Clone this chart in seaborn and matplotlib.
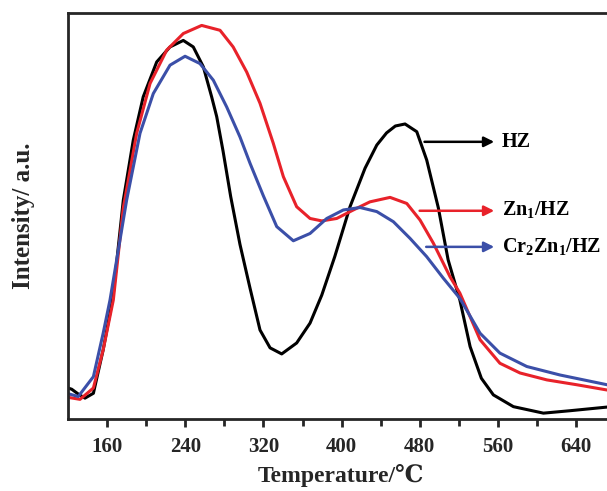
import numpy as np
import pandas as pd
import matplotlib
matplotlib.use("Agg")
import matplotlib.pyplot as plt
import seaborn as sns

# values (temperature in C, intensity normalised 0..1)
hz_t = [120, 123.8, 130, 137.4, 146, 156, 166, 176.6, 186.8, 197, 210.8, 224.4, 238, 248.2,
        258.5, 267, 272.2, 278.7, 286.5, 296, 306.3, 316.5, 326.8, 338.7, 354, 367.7, 379.7,
        393, 408.6, 424, 436, 446, 455, 464.9, 476.9, 487.1, 499, 509, 521, 531.5, 543,
        555.3, 575.8, 606.5, 633.8, 671.7]
hz_i = [0.076, 0.073, 0.062, 0.051, 0.063, 0.17, 0.3, 0.539, 0.687, 0.794, 0.88, 0.917, 0.933, 0.917,
        0.868, 0.794, 0.745, 0.66, 0.548, 0.43, 0.322, 0.219, 0.175, 0.16, 0.187, 0.236, 0.305,
        0.4, 0.523, 0.618, 0.675, 0.705, 0.722, 0.727, 0.708, 0.638, 0.52, 0.392, 0.293, 0.178, 0.1,
        0.059, 0.03, 0.014, 0.02, 0.029]

zn_t = [120, 132.3, 146, 156, 166.4, 176.6, 190.3, 204, 221, 238, 256.8, 275.6, 289, 302.9,
        316.5, 330, 340.4, 354, 367.7, 379.7, 395, 412, 429, 449.6, 466.7, 480.3, 493.9, 511,
        521, 541.7, 562, 582.6, 610, 640.7, 671.7]
zn_i = [0.053, 0.048, 0.076, 0.17, 0.293, 0.52, 0.704, 0.827, 0.909, 0.95, 0.97, 0.958, 0.917, 0.855,
        0.778, 0.68, 0.597, 0.523, 0.494, 0.488, 0.494, 0.515, 0.535, 0.546, 0.531, 0.49, 0.433, 0.35,
        0.31, 0.195, 0.137, 0.113, 0.096, 0.084, 0.071]

cr_t = [120, 130.5, 146, 156, 163, 180, 193.7, 207.3, 224.4, 239.8, 255, 268.7, 282.4, 296,
        306.3, 319.9, 333.6, 350.6, 367.7, 384.8, 401.8, 418.9, 436, 453, 470, 487, 504, 521,
        541.7, 562, 589.5, 623.6, 671.7]
cr_i = [0.062, 0.055, 0.104, 0.211, 0.293, 0.539, 0.704, 0.802, 0.872, 0.894, 0.876, 0.835, 0.769, 0.695,
        0.63, 0.55, 0.474, 0.439, 0.457, 0.494, 0.515, 0.521, 0.511, 0.486, 0.445, 0.4, 0.347, 0.297,
        0.211, 0.162, 0.129, 0.108, 0.084]

labels = ["HZ", r"Zn$_\mathbf{1}$/HZ", r"Cr$_\mathbf{2}$Zn$_\mathbf{1}$/HZ"]
colors = ["#000000", "#e8222a", "#3b4fa8"]
arrow_start = [482, 477, 483.7]
arrow_y = [0.683, 0.513, 0.424]

sns.set_style("ticks")
serif = ["Liberation Serif", "DejaVu Serif"]
plt.rcParams["font.family"] = serif
plt.rcParams["mathtext.fontset"] = "custom"
plt.rcParams["mathtext.bf"] = "Liberation Serif:bold"
plt.rcParams["mathtext.rm"] = "Liberation Serif:bold"

fig = plt.figure(figsize=(6.07, 4.91), dpi=100)
ax = fig.add_axes([0.112, 0.147, 0.908, 0.826])

for t, i, c in zip([hz_t, zn_t, cr_t], [hz_i, zn_i, cr_i], colors):
    sns.lineplot(x=t, y=i, color=c, linewidth=2.2, ax=ax, sort=True, estimator=None)

for lab, c, x0, y0 in zip(labels, colors, arrow_start, arrow_y):
    ax.annotate("", xy=(559, y0), xytext=(x0, y0),
                arrowprops=dict(arrowstyle="-|>", color=c, lw=1.8, mutation_scale=15))
    ax.text(564, y0, lab, color="black", fontsize=14.5, fontweight="bold",
            va="center", ha="left", family=serif)

ax.set_xlim(120, 684)
ax.set_ylim(0, 1.0)
ax.set_xticks(np.arange(160, 680, 80))
ax.set_xticks(np.arange(200, 680, 80), minor=True)
ax.set_yticks([])
ax.tick_params(axis="x", which="major", direction="out", length=6, width=2, labelsize=15, pad=7)
ax.tick_params(axis="x", which="minor", direction="out", length=5, width=2)
for lbl in ax.get_xticklabels():
    lbl.set_fontweight("bold")
for s in ax.spines.values():
    s.set_linewidth(2)

ax.set_xlabel("Temperature/℃", fontsize=17, fontweight="bold", family=serif)
ax.xaxis.set_label_coords(0.495, -0.112)
ax.set_ylabel("Intensity/ a.u.", fontsize=18, fontweight="bold", labelpad=24, family=serif)

fig.savefig("out.png", dpi=100)
